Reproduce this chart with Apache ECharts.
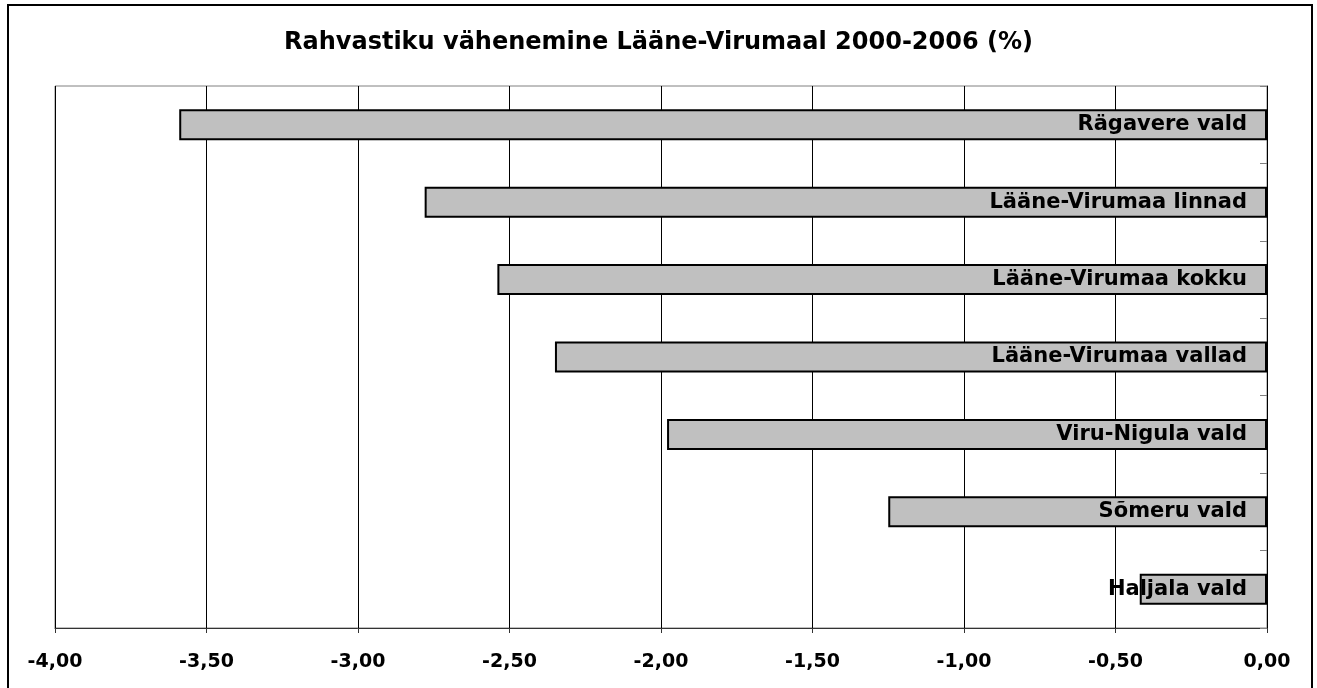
<!DOCTYPE html>
<html>
<head>
<meta charset="utf-8">
<script src="https://cdn.jsdelivr.net/npm/echarts@6/dist/echarts.min.js"></script>
<style>
  body { margin: 0; background: #fff; }
  .frame {
    position: absolute;
    left: 7px; top: 4px;
    width: 1302px; height: 700px;
    border: 2px solid #000;
  }
  .bar-chart {
    position: absolute;
    left: 0; top: 0;
    width: 1317px; height: 688px;
  }
</style>
</head>
<body>
<div class="frame"></div>
<div class="bar-chart" id="myEchart"></div>
<script>
  // andmed
  var categories = ['Rägavere vald', 'Lääne-Virumaa linnad', 'Lääne-Virumaa kokku',
    'Lääne-Virumaa vallad', 'Viru-Nigula vald', 'Sõmeru vald', 'Haljala vald'];
  var values = [-3.59, -2.78, -2.54, -2.35, -1.98, -1.25, -0.42];
  var xTicks = [-4, -3.5, -3, -2.5, -2, -1.5, -1, -0.5, 0];

  var chart = echarts.init(document.getElementById('myEchart'));
  var chartOption = {
    animation: false,
    textStyle: { fontFamily: 'DejaVu Sans' },
    title: {
      text: 'Rahvastiku vähenemine Lääne-Virumaal 2000-2006 (%)',
      left: 'center',
      top: 26,
      textStyle: { fontSize: 24, fontWeight: 'bold', color: '#000', fontFamily: 'DejaVu Sans' }
    },
    grid: {
      left: 55, right: 50, top: 86, bottom: 60,
      show: true, borderColor: '#808080', borderWidth: 1
    },
    xAxis: {
      type: 'value',
      min: xTicks[0],
      max: xTicks[xTicks.length - 1],
      interval: 0.5,
      axisLine: { show: true, lineStyle: { color: '#333', width: 1 } },
      axisTick: { show: true, length: 5, lineStyle: { color: '#333' } },
      splitLine: { show: true, lineStyle: { color: '#000', width: 1 } },
      axisLabel: {
        margin: 25,
        fontSize: 19,
        fontWeight: 'bold',
        fontFamily: 'DejaVu Sans',
        color: '#000',
        formatter: function (v) { return v.toFixed(2).replace('.', ','); }
      }
    },
    yAxis: {
      type: 'category',
      data: categories,
      inverse: true,
      position: 'right',
      axisLine: { show: true, lineStyle: { color: '#000' } },
      axisTick: { show: true, inside: true, length: 7, lineStyle: { color: '#808080' } },
      axisLabel: { show: false }
    },
    series: [{
      type: 'bar',
      data: values,
      barWidth: 31,
      itemStyle: { color: '#c0c0c0', borderColor: '#000', borderWidth: 2 },
      label: {
        show: true,
        position: 'insideRight',
        distance: 20,
        fontSize: 21,
        fontWeight: 'bold',
        fontFamily: 'DejaVu Sans',
        color: '#000',
        formatter: '{b}'
      }
    }]
  };
  chart.setOption(chartOption);
</script>
</body>
</html>
